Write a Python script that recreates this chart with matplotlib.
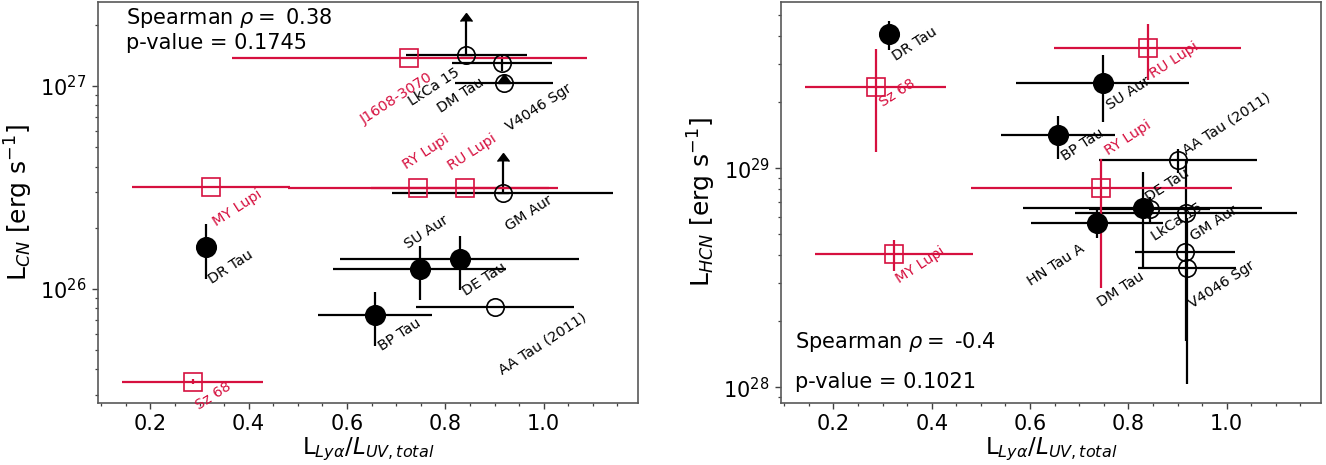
import numpy as np
import matplotlib
matplotlib.use("Agg")
import matplotlib.pyplot as plt
from matplotlib.ticker import MultipleLocator

nan = np.nan

# stars (same order in both panels), x quantity shared
names = ["DR Tau", "SU Aur", "DE Tau", "BP Tau", "HN Tau A",
         "AA Tau (2011)", "GM Aur", "LkCa 15", "DM Tau", "V4046 Sgr",
         "J1608-3070", "MY Lupi", "RY Lupi", "RU Lupi", "Sz 68"]
kind = ["full"] * 5 + ["open"] * 5 + ["lupus"] * 5

lya_frac = [0.314, 0.748, 0.829, 0.657, 0.736,
            0.901, 0.917, 0.843, 0.915, 0.919,
            0.727, 0.323, 0.745, 0.839, 0.286]
lya_frac_err = [0.0, 0.176, 0.243, 0.116, 0.134,
                0.160, 0.225, 0.124, 0.101, 0.100,
                0.361, 0.161, 0.265, 0.190, 0.143]

# CN luminosities [erg/s]
cn_lum = [1.60e26, 1.25e26, 1.40e26, 7.4e25, nan,
          8.1e25, 2.96e26, 1.42e27, 1.30e27, 1.03e27,
          1.37e27, 3.16e26, 3.13e26, 3.14e26, 3.47e25]
cn_err_lo = [0.48e26, 0.37e26, 0.41e26, 2.2e25, nan,
             0.1e25, 0.0, 0.0, 0.12e27, 0.0,
             0.0, 0.0, 0.0, 0.0, 0.1e25]
cn_err_hi = [0.48e26, 0.37e26, 0.41e26, 2.2e25, nan,
             0.1e25, 1.3e26, 0.66e27, 0.12e27, 0.01e27,
             0.0, 0.0, 0.0, 0.0, 0.1e25]
cn_lolim = [False, False, False, False, False,
            False, True, True, False, True,
            False, False, False, False, False]

# HCN luminosities [erg/s]
hcn_lum = [4.10e29, 2.46e29, 6.57e28, 1.42e29, 5.65e28,
           1.09e29, 6.27e28, 6.5e28, 4.16e28, 3.49e28,
           nan, 4.05e28, 8.15e28, 3.53e29, 2.35e29]
hcn_err_lo = [0.62e29, 0.84e29, 3.05e28, 0.32e29, 0.85e28,
              0.14e29, 4.65e28, 0.9e28, 0.0, 2.46e28,
              nan, 0.67e28, 5.3e28, 1.01e29, 1.17e29]
hcn_err_hi = [0.62e29, 0.84e29, 3.05e28, 0.32e29, 0.85e28,
              0.14e29, 4.65e28, 0.9e28, 0.0, 2.46e28,
              nan, 0.67e28, 2.85e28, 1.01e29, 1.17e29]
hcn_lolim = [False] * 15

cn_stats = "Spearman $\\rho = $ 0.38\np-value = 0.1745"
hcn_rho = "Spearman $\\rho = $ -0.4"
hcn_p = "p-value = 0.1021"

RED = "#D6103F"
styles = {
    "full": dict(marker="o", color="k", mfc="k", ms=14, mew=1.2),
    "open": dict(marker="o", color="k", mfc="none", ms=12.5, mew=1.2),
    "lupus": dict(marker="s", color=RED, mfc="none", ms=13, mew=1.2),
}

# label offsets in pixels (right, down) from each point
cn_offsets = {"DR Tau": (-0.5, 39.5), "SU Aur": (-18, -17.5), "DE Tau": (0, 40),
              "BP Tau": (0.5, 38), "AA Tau (2011)": (1, 70), "GM Aur": (0, 40),
              "V4046 Sgr": (0, 51), "DM Tau": (-67, 52.5), "LkCa 15": (-60, 53.5),
              "J1608-3070": (-51.5, 69), "RY Lupi": (-18, -16), "RU Lupi": (-19.5, -15),
              "MY Lupi": (-0.5, 42), "Sz 68": (0, 31)}
hcn_offsets = {"DR Tau": (0.5, 30), "Sz 68": (1, 22.5), "MY Lupi": (0, 32),
               "SU Aur": (1, 30), "RU Lupi": (0, 32.5), "BP Tau": (1, 29),
               "RY Lupi": (1, -30), "AA Tau (2011)": (2, -2.5), "DE Tau": (0, -4),
               "LkCa 15": (-0.5, 34), "GM Aur": (2, 30.5), "V4046 Sgr": (0, 42.5),
               "DM Tau": (-90, 58), "HN Tau A": (-72, 66.5)}


def draw_panel(ax, lum, err_lo, err_hi, lolim, offsets):
    for i, name in enumerate(names):
        if np.isnan(lum[i]):
            continue
        st = styles[kind[i]]
        c = st["color"]
        x, y = lya_frac[i], lum[i]
        xe = lya_frac_err[i] if lya_frac_err[i] > 0 else None
        if lolim[i]:
            # lower limit: upward arrow
            ax.errorbar(x, y, yerr=[[0], [err_hi[i]]], lolims=True, fmt="none",
                        ecolor=c, color=c, elinewidth=1.6, capsize=4)
            ax.errorbar(x, y, xerr=xe, fmt=st["marker"], color=c, mfc=st["mfc"],
                        mec=c, ms=st["ms"], mew=st["mew"], elinewidth=1.6)
        else:
            ye = [[err_lo[i]], [err_hi[i]]] if err_hi[i] > 0 else None
            ax.errorbar(x, y, xerr=xe, yerr=ye, fmt=st["marker"], color=c,
                        mfc=st["mfc"], mec=c, ms=st["ms"], mew=st["mew"],
                        elinewidth=1.6)
        dx, dy = offsets[name]
        ax.annotate(name, (x, y), xytext=(dx, -dy), textcoords="offset pixels",
                    rotation=33, ha="left", va="bottom", fontsize=10.4,
                    color=c, annotation_clip=False)


def style_axes(ax):
    ax.set_yscale("log")
    ax.set_xlim(0.093, 1.192)
    ax.xaxis.set_major_locator(MultipleLocator(0.2))
    ax.xaxis.set_minor_locator(MultipleLocator(0.05))
    ax.tick_params(which="major", length=4.5, width=1, labelsize=15, color="0.25")
    ax.tick_params(which="minor", length=2.5, width=0.9, color="0.25")
    for sp in ax.spines.values():
        sp.set_color("0.35")
        sp.set_linewidth(1.2)
    ax.set_xlabel("L$_{Ly\\alpha}/L_{UV, total}$", fontsize=16.5, labelpad=1)


fig = plt.figure(figsize=(13.26, 4.65), dpi=100)
ax1 = fig.add_axes([0.0737, 0.1333, 0.4075, 0.8624])
ax2 = fig.add_axes([0.5888, 0.1333, 0.4075, 0.8624])

draw_panel(ax1, cn_lum, cn_err_lo, cn_err_hi, cn_lolim, cn_offsets)
style_axes(ax1)
ax1.set_ylim(2.73e25, 2.59e27)
ax1.set_ylabel("L$_{CN}$ [erg s$^{-1}$]", fontsize=18)
ax1.text(0.052, 0.99, cn_stats, transform=ax1.transAxes, fontsize=15,
         ha="left", va="top")

draw_panel(ax2, hcn_lum, hcn_err_lo, hcn_err_hi, hcn_lolim, hcn_offsets)
style_axes(ax2)
ax2.set_ylim(8.47e27, 5.74e29)
ax2.set_ylabel("L$_{HCN}$ [erg s$^{-1}$]", fontsize=18)
ax2.text(0.0265, 0.137, hcn_rho, transform=ax2.transAxes, fontsize=15,
         ha="left", va="baseline")
ax2.text(0.0265, 0.0367, hcn_p, transform=ax2.transAxes, fontsize=15,
         ha="left", va="baseline")

fig.savefig("out.png", dpi=100)
